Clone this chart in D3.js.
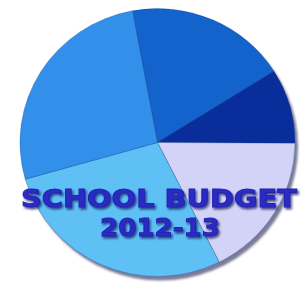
<!DOCTYPE html>
<html><head><meta charset="utf-8">
<script src="https://cdn.jsdelivr.net/npm/d3@7"></script>
<style>html,body{margin:0;padding:0;background:#fff;}svg{display:block;}</style>
</head><body>
<script>
const categories = ["Part 1", "Part 2", "Part 3", "Part 4", "Part 5"];
const values = [19, 9, 17.5, 28, 26.5];
const colors = ["#1462cc", "#0a2d9c", "#d3d3f7", "#5ec0f4", "#3290ea"];
const titleLines = ["SCHOOL BUDGET", "2012-13"];

const W = 305, H = 289;
const svg = d3.select("body").append("svg").attr("width", W).attr("height", H);
const defs = svg.append("defs");
const f = defs.append("filter").attr("id", "ts").attr("x", "-10%").attr("y", "-30%").attr("width", "120%").attr("height", "160%");
f.append("feDropShadow").attr("dx", 1.5).attr("dy", 2).attr("stdDeviation", 1.2).attr("flood-color", "#0b0b5a").attr("flood-opacity", 0.75);
const blur = defs.append("filter").attr("id", "sb");
blur.append("feGaussianBlur").attr("stdDeviation", 1);

const cx = 157.5, cy = 142.5, rx = 137.5, ry = 134;
const pie = d3.pie().sort(null).startAngle(-10.5 * Math.PI / 180).endAngle((360 - 10.5) * Math.PI / 180);
const arc = d3.arc().innerRadius(0).outerRadius(1);
const arcs = pie(values);

// shadow
svg.append("ellipse").attr("cx", cx + 3).attr("cy", cy + 4).attr("rx", rx).attr("ry", ry)
  .attr("fill", "#7c7c98").attr("filter", "url(#sb)");

const g = svg.append("g").attr("transform", `translate(${cx},${cy}) scale(${rx},${ry})`);
g.selectAll("path").data(arcs).join("path")
  .attr("d", arc)
  .attr("fill", (d, i) => colors[i])
  .attr("stroke", "#0a3a8a").attr("stroke-opacity", 0.35)
  .attr("stroke-width", 0.006);

const t = svg.append("g").attr("filter", "url(#ts)")
  .attr("font-family", "'DejaVu Sans', Verdana, sans-serif").attr("font-weight", "bold")
  .attr("fill", "#2b2bc6").attr("stroke", "#2424b0").attr("stroke-width", 0.9);
t.append("text").attr("x", 21).attr("y", 207).attr("font-size", 24)
  .attr("textLength", 276).attr("lengthAdjust", "spacingAndGlyphs").text(titleLines[0]);
t.append("text").attr("x", 100).attr("y", 236).attr("font-size", 24)
  .attr("textLength", 120).attr("lengthAdjust", "spacingAndGlyphs").text(titleLines[1]);
</script>
</body></html>
